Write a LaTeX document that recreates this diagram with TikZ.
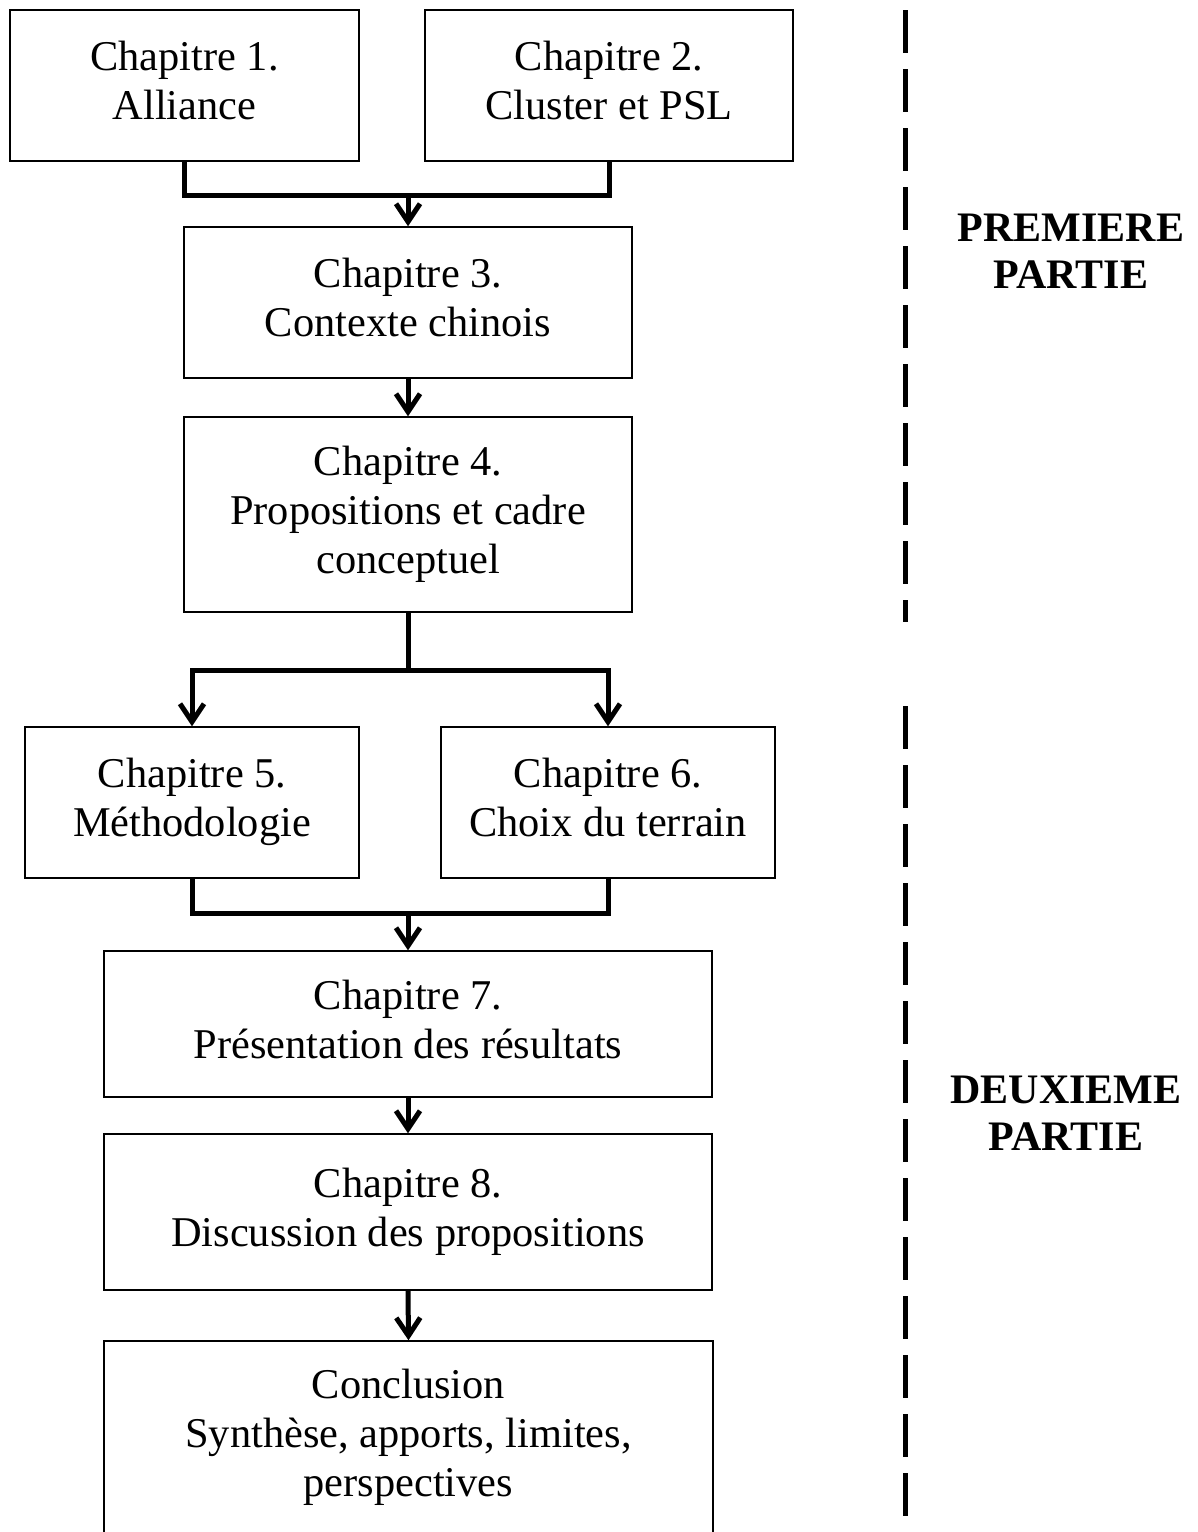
\documentclass[tikz,border=0pt]{standalone}
\usepackage{fontspec}
\setmainfont{Liberation Serif}
\usetikzlibrary{arrows.meta}

\begin{document}
\begin{tikzpicture}[x=0.5pt, y=-0.5pt,
    every node/.style={font=\fontsize{21.2}{24.5}\selectfont},
    chapbox/.style={draw, line width=0.75pt, align=center, inner sep=0pt},
    link/.style={line width=2.5pt},
    linkarrow/.style={line width=2.5pt, -{Straight Barb[length=9pt, width=12pt, line width=2.5pt]}},
    partlabel/.style={align=center, font=\fontsize{21}{23.5}\selectfont\bfseries}]
  \useasboundingbox (0,0) rectangle (1198,1532);

  % Chapter boxes
  \node[chapbox, minimum width=174.5pt, minimum height=75.5pt] (c1) at (184.5, 85.5) {\strut Chapitre 1.\\Alliance\strut};
  \node[chapbox, minimum width=184pt, minimum height=75.5pt] (c2) at (609, 85.5) {\strut Chapitre 2.\\Cluster et PSL\strut};
  \node[chapbox, minimum width=224pt, minimum height=75.5pt] (c3) at (408, 302.5) {\strut Chapitre 3.\\Contexte chinois\strut};
  \node[chapbox, minimum width=224pt, minimum height=97.5pt] (c4) at (408, 514.5) {\strut Chapitre 4.\\Propositions et cadre\\conceptuel\strut};
  \node[chapbox, minimum width=167pt, minimum height=75.5pt] (c5) at (192, 802.5) {\strut Chapitre 5.\\Méthodologie\strut};
  \node[chapbox, minimum width=167pt, minimum height=75.5pt] (c6) at (608, 802.5) {\strut Chapitre 6.\\Choix du terrain\strut};
  \node[chapbox, minimum width=304pt, minimum height=73pt] (c7) at (408, 1024) {\strut Chapitre 7.\\Présentation des résultats\strut};
  \node[chapbox, minimum width=304pt, minimum height=78pt] (c8) at (408, 1212) {\strut Chapitre 8.\\Discussion des propositions\strut};
  \node[chapbox, minimum width=304.5pt, minimum height=97pt] (c9) at (408.5, 1438) {\strut Conclusion\\Synthèse, apports, limites,\\perspectives\strut};

  % Connectors
  \coordinate (j1) at (408, 195);
  \coordinate (j2) at (408, 670);
  \coordinate (j3) at (408, 913);
  \draw[link] (c1.south) |- (j1) -| (c2.south);
  \draw[linkarrow] (j1) -- (c3.north);
  \draw[linkarrow] (c3.south) -- (c4.north);
  \draw[link] (c4.south) -- (j2);
  \draw[linkarrow] (j2) -| (c5.north);
  \draw[linkarrow] (j2) -| (c6.north);
  \draw[link] (c5.south) |- (j3) -| (c6.south);
  \draw[linkarrow] (j3) -- (c7.north);
  \draw[linkarrow] (c7.south) -- (c8.north);
  \draw[linkarrow] (c8.south) -- (c9.north);

  % Parts
  \coordinate (d1top) at (905.5, 10);
  \coordinate (d1bot) at (905.5, 622);
  \coordinate (d2top) at (905.5, 706);
  \coordinate (d2bot) at (905.5, 1532);
  \draw[line width=2.5pt, dash pattern=on 21.5pt off 8pt] (d1top) -- (d1bot);
  \draw[line width=2.5pt, dash pattern=on 21.5pt off 8pt] (d2top) -- (d2bot);
  \node[partlabel] (p1) at (1071, 251) {PREMIERE\\PARTIE};
  \node[partlabel] (p2) at (1066, 1113) {DEUXIEME\\PARTIE};
\end{tikzpicture}
\end{document}
